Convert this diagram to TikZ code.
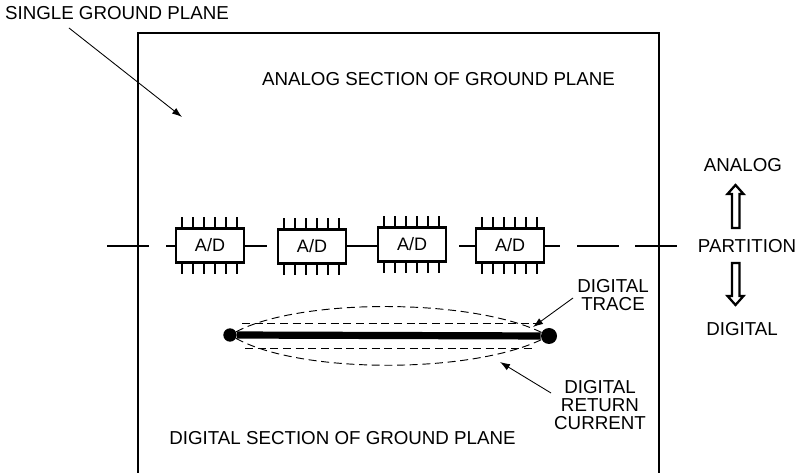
\documentclass[tikz,border=0pt]{standalone}
\usepackage{fontspec}
\setmainfont{Liberation Sans}
\usetikzlibrary{arrows.meta, positioning}

\tikzset{
    chip/.style={draw, line width=1.7pt, minimum width=51.5pt, minimum height=25.5pt, inner sep=0pt, font=\fontsize{13.5}{14}\selectfont},
    chippin/.style={line width=1.5pt},
    bus/.style={line width=1.7pt},
    leader/.style={line width=0.65pt, -{Latex[length=7.5pt,width=5.2pt]}},
    tag/.style={align=center, font=\fontsize{14.05}{13.5}\selectfont, inner sep=0pt},
    returnline/.style={dash pattern=on 6pt off 3.5pt, line width=0.7pt},
    openarrow/.style={line width=1.7pt, line join=miter, fill=white}
}

\begin{document}
\begin{tikzpicture}[x=0.75pt, y=-0.75pt]
    \useasboundingbox (0,0) rectangle (800,473);

    % ground plane outline
    \draw[line width=1.8pt] (138,473) -- (138,33) -- (659,33) -- (659,473);

    % chips along the partition
    \node[chip] (chipa) at (210,245.5) {A/D};
    \node[chip] (chipb) at (312,246.5) {A/D};
    \node[chip] (chipc) at (412,244.5) {A/D};
    \node[chip] (chipd) at (510,245.5) {A/D};
    \foreach \chipname in {chipa, chipb, chipc, chipd} {
        \foreach \pinx in {-28,-17,-6,5,16,27} {
            \draw[chippin] ([xshift=\pinx*0.75pt]\chipname.north) -- ++(0,-10);
            \draw[chippin] ([xshift=\pinx*0.75pt]\chipname.south) -- ++(0,10);
        }
    }

    % partition line
    \coordinate (parta) at (107,246);
    \coordinate (partb) at (149,246);
    \coordinate (partc) at (166,246);
    \coordinate (partd) at (267,246);
    \coordinate (parte) at (459,246);
    \coordinate (partf) at (560,246);
    \coordinate (partg) at (577,246);
    \coordinate (parth) at (619,246);
    \coordinate (parti) at (635,246);
    \coordinate (partj) at (677,246);
    \draw[bus] (parta) -- (partb);
    \draw[bus] (partc) -- (partc -| chipa.west);
    \draw[bus] (chipa.east |- partd) -- (partd);
    \draw[bus] (chipb.east |- partd) -- (chipc.west |- partd);
    \draw[bus] (parte) -- (parte -| chipd.west);
    \draw[bus] (chipd.east |- partf) -- (partf);
    \draw[bus] (partg) -- (parth);
    \draw[bus] (parti) -- (partj);

    % digital trace
    \node[circle, fill=black, minimum size=10pt, inner sep=0pt] (tracea) at (230,335) {};
    \node[circle, fill=black, minimum size=12pt, inner sep=0pt] (traceb) at (549,336) {};
    \draw[line width=5.4pt] (tracea) -- (traceb);

    % return current
    \draw[returnline] (242,323) -- (545,323);
    \draw[returnline] (245,348) -- (533,348);
    \draw[returnline] (tracea) .. controls (300,298) and (470,298) .. (traceb);
    \draw[returnline] (tracea) .. controls (300,374) and (470,374) .. (traceb);

    % labels
    \node[tag] (single) at (117,13) {SINGLE GROUND PLANE};
    \node[tag] (analogsec) at (438.5,79) {ANALOG SECTION OF GROUND PLANE};
    \node[tag] (digitalsec) at (342.5,438) {DIGITAL SECTION OF GROUND PLANE};
    \node[tag] (analog) at (743,165) {ANALOG};
    \node[tag] (partition) at (747,246) {PARTITION};
    \node[tag] (digital) at (742,329) {DIGITAL};
    \node[tag] (tracetag) at (613,295) {DIGITAL\\TRACE};
    \node[tag] (returntag) at (600,405) {DIGITAL\\RETURN\\CURRENT};

    % leaders
    \coordinate (singlestart) at (69,28);
    \coordinate (singleend) at (182,117);
    \coordinate (tracestart) at (573,298);
    \coordinate (traceend) at (533,327);
    \coordinate (returnstart) at (551,393);
    \coordinate (returnend) at (500,362);
    \draw[leader] (singlestart) -- (singleend);
    \draw[leader] (tracestart) -- (traceend);
    \draw[leader] (returnstart) -- (returnend);

    % open arrows
    \draw[openarrow] (732,228) -- (732,194) -- (727.5,194) -- (735.5,185) -- (743.5,194) -- (739.5,194) -- (739.5,228) -- cycle;
    \draw[openarrow] (732,263) -- (732,296) -- (727.5,296) -- (735.5,305) -- (743.5,296) -- (739.5,296) -- (739.5,263) -- cycle;
\end{tikzpicture}
\end{document}
